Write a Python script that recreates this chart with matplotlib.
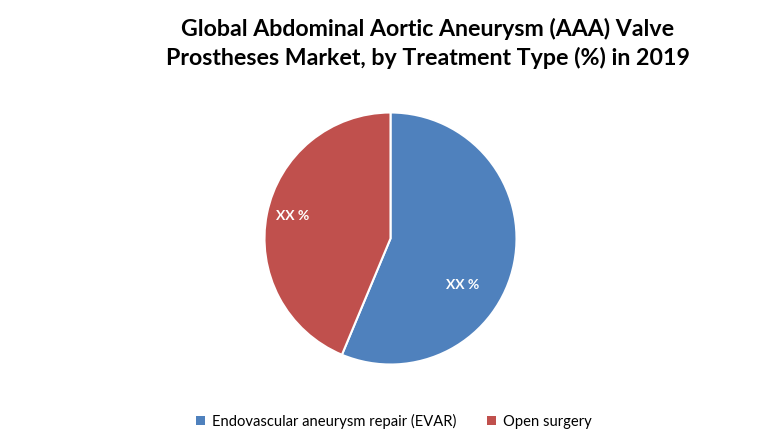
import matplotlib
matplotlib.use("Agg")
import matplotlib.pyplot as plt
from matplotlib.patches import Patch

categories = ["Endovascular aneurysm repair (EVAR)", "Open surgery"]
values = [56.3, 43.7]
labels_txt = ["XX %", "XX %"]
colors = ["#4F81BD", "#C0504D"]

plt.rcParams['font.family'] = ['Lato', 'DejaVu Sans']

fig = plt.figure(figsize=(7.8, 4.4), dpi=100)
fig.patch.set_facecolor("white")

# pie axes: center (390.5, 238.5), radius 126 px
r = 126
cx, cy = 390.5, 440 - 238.5
ax = fig.add_axes([(cx - r) / 780, (cy - r) / 440, 2 * r / 780, 2 * r / 440])
wedges, _ = ax.pie(values, colors=colors, startangle=90, counterclock=False,
                   radius=1.0,
                   wedgeprops=dict(edgecolor="white", linewidth=1.5))
ax.set_xlim(-1, 1)
ax.set_ylim(-1, 1)
ax.set_aspect("equal")
ax.axis("off")

label_pos = [(0.57, -0.37), (-0.78, 0.18)]
for (x, y), t in zip(label_pos, labels_txt):
    ax.text(x, y, t, ha="center", va="center", color="white",
            fontsize=10, fontweight="bold")

tx = 428 / 780
fig.text(tx, 1 - 29 / 440, "Global Abdominal Aortic Aneurysm (AAA) Valve",
         ha="center", va="center", fontsize=16.7, fontweight="bold", color="#000000")
fig.text(tx, 1 - 58 / 440, "Prostheses Market, by Treatment Type (%) in 2019",
         ha="center", va="center", fontsize=16.7, fontweight="bold", color="#000000")

handles = [Patch(facecolor=c, edgecolor="none") for c in colors]
fig.legend(handles, categories, loc="center", bbox_to_anchor=(394 / 780, 1 - 421 / 440),
           ncol=2, frameon=False, fontsize=10.6, handlelength=0.6, handleheight=0.6,
           handletextpad=0.5, columnspacing=2.1)

fig.savefig("out.png", dpi=100, facecolor="white")
